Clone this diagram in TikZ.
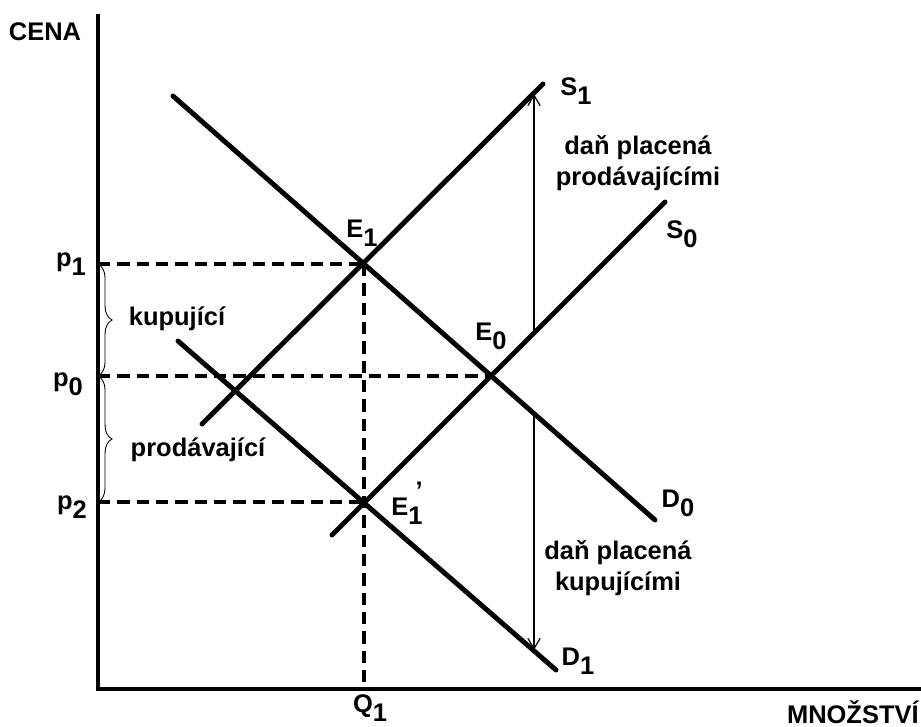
\documentclass[tikz,border=0pt]{standalone}
\usepackage{fontspec}
\setmainfont{Liberation Sans}
\usetikzlibrary{arrows.meta,decorations.pathreplacing}
\newcommand\lowr[1]{\raisebox{-.65ex}{#1}}
\begin{document}
\begin{tikzpicture}[x=0.02cm,y=-0.02cm,
  every node/.style={font=\fontsize{14.5}{17.5}\selectfont\bfseries, inner sep=0pt},
  curve/.style={line width=2.8pt, line cap=round},
  axis/.style={line width=2.2pt},
  guide/.style={line width=2pt, dash pattern=on 7pt off 4pt},
  taxarrow/.style={line width=0.7pt, -{Straight Barb[length=6pt,width=7pt]}},
  share/.style={decorate, decoration={brace, amplitude=8pt}, line width=0.5pt}]
\useasboundingbox (0,0) rectangle (921,727);
\coordinate (origin) at (98,689);
\coordinate (ytop) at (98,14);
\coordinate (xend) at (921,689);
\coordinate (p1) at (98,264);
\coordinate (p0) at (98,376);
\coordinate (p2) at (98,502);
\coordinate (q1) at (364,689);
\coordinate (E1) at (364,264);
\coordinate (E0) at (490,376);
\coordinate (E1p) at (364,502);
\coordinate (d0a) at (173,96);
\coordinate (d0b) at (655,520);
\coordinate (d1a) at (178,341);
\coordinate (d1b) at (556,670);
\coordinate (s0a) at (332,535);
\coordinate (s0b) at (665,202);
\coordinate (s1a) at (202,424);
\coordinate (s1b) at (543,84);
\coordinate (sellbot) at (534,333);
\coordinate (selltop) at (534,94);
\coordinate (buytop) at (534,414);
\coordinate (buybot) at (534,650);
\draw[axis] (ytop) -- (origin) -- (xend);
\draw[guide] (p1) -- (E1);
\draw[guide] (p0) -- (E0);
\draw[guide] (p2) -- (E1p);
\draw[guide] (E1) -- (q1);
\draw[curve] (d0a) -- (d0b);
\draw[curve] (d1a) -- (d1b);
\draw[curve] (s0a) -- (s0b);
\draw[curve] (s1a) -- (s1b);
\draw[taxarrow] (sellbot) -- (selltop);
\draw[taxarrow] (buytop) -- (buybot);
\draw[share] (p1) -- (p0);
\draw[share] (p0) -- (p2);
\node (cena) at (45,32) {CENA};
\node[anchor=east] (mnozstvi) at (919,712) {MNOŽSTVÍ};
\node (q1lbl) at (370,708) {Q\lowr{1}};
\node (p1lbl) at (71,264) {p\lowr{1}};
\node (p0lbl) at (68,384) {p\lowr{0}};
\node (p2lbl) at (72,507) {p\lowr{2}};
\node (E1lbl) at (362,233) {E\lowr{1}};
\node (E0lbl) at (491,336) {E\lowr{0}};
\node (E1plbl) at (407,503) {E\lowr{1}\llap{\raisebox{1.2ex}{'}}};
\node (S1lbl) at (576,91) {S\lowr{1}};
\node (S0lbl) at (682,234) {S\lowr{0}};
\node (D0lbl) at (678,503) {D\lowr{0}};
\node (D1lbl) at (578,661) {D\lowr{1}};
\node[align=center] (selltax) at (638,163) {daň placená\\prodávajícími};
\node[align=center] (buytax) at (618,568) {daň placená\\kupujícími};
\node (buyshare) at (177,319) {kupující};
\node (sellshare) at (198,450) {prodávající};
\end{tikzpicture}
\end{document}
